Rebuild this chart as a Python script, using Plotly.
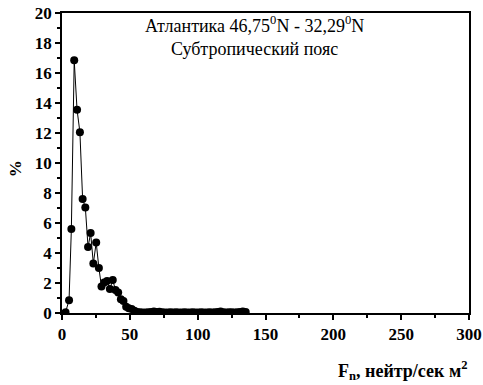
import plotly.graph_objects as go

flux = [2.6, 5.2, 6.9, 9.0, 11.1, 13.2, 15.2, 17.2, 19.2, 21.1, 23.1, 25.2, 27.2, 29.1,
        31.1, 33.2, 35.3, 37.4, 39.4, 41.4, 43.4, 45.3, 47.3, 49.2, 51.3,
        53.4, 55.4, 57.5, 59.5, 61.6, 63.6, 65.7, 67.7, 69.8, 71.8, 73.9, 75.9, 78.0,
        80.0, 82.1, 84.1, 86.2, 88.2, 90.3, 92.3, 94.4, 96.4, 98.5, 100.5, 102.6,
        104.6, 106.7, 108.7, 110.8, 112.8, 114.9, 116.9, 119.0, 121.0, 123.1, 125.1,
        127.2, 129.2, 131.3, 133.3, 135.4]
percent = [0.05, 0.85, 5.6, 16.85, 13.55, 12.05, 7.6, 7.04, 4.4, 5.33, 3.3, 4.7, 3.0, 1.76,
           2.03, 2.14, 1.6, 2.2, 1.54, 1.36, 0.92, 0.8, 0.42, 0.31, 0.27,
           0.15, 0.07, 0.05, 0.04, 0.04, 0.05, 0.06, 0.10, 0.06, 0.09, 0.05, 0.04, 0.04,
           0.05, 0.04, 0.05, 0.04, 0.04, 0.05, 0.04, 0.04, 0.05, 0.04, 0.04, 0.05,
           0.04, 0.04, 0.05, 0.04, 0.05, 0.06, 0.10, 0.05, 0.04, 0.05, 0.05,
           0.04, 0.05, 0.06, 0.10, 0.07]

x_ticks = [0, 50, 100, 150, 200, 250, 300]
x_ticklabels = ["0", "50", "100", "150", "200", "250", "300"]
y_ticks = [0, 2, 4, 6, 8, 10, 12, 14, 16, 18, 20]
y_ticklabels = ["0", "2", "4", "6", "8", "10", "12", "14", "16", "18", "20"]

FONT = "Liberation Serif, Times New Roman, serif"

fig = go.Figure(go.Scatter(
    x=flux, y=percent, mode="lines+markers",
    line=dict(color="black", width=1),
    marker=dict(color="black", size=8),
    showlegend=False,
))

axis_common = dict(
    showgrid=False, zeroline=False, showline=True, linecolor="black", linewidth=1.5,
    mirror=True, ticks="outside", ticklen=5, tickwidth=1.5, tickcolor="black",
    tickfont=dict(family=FONT, size=17, color="black"), automargin=False,
)

fig.update_xaxes(range=[0, 300], tickvals=x_ticks,
                 ticktext=["<b>%s</b>" % t for t in x_ticklabels],
                 minor=dict(dtick=25, tick0=0, ticks="outside", ticklen=3, tickcolor="black"),
                 **axis_common)
fig.update_yaxes(range=[0, 20], tickvals=y_ticks,
                 ticktext=["<b>%s</b>" % t for t in y_ticklabels],
                 minor=dict(dtick=1, tick0=0, ticks="outside", ticklen=3, tickcolor="black"),
                 **axis_common)

fig.add_annotation(x=0.474, y=1.007, xref="paper", yref="paper", xanchor="center", yanchor="top",
                   text="Атлантика 46,75<sup>0</sup>N - 32,29<sup>0</sup>N<br>Субтропический пояс",
                   showarrow=False, align="center",
                   font=dict(family=FONT, size=18, color="black"))
fig.add_annotation(x=1.0, y=-0.19, xref="paper", yref="paper", xanchor="right", yanchor="middle",
                   text="<b>F<sub>n</sub>, нейтр/сек м<sup>2</sup></b>", showarrow=False,
                   font=dict(family=FONT, size=18, color="black"))
fig.add_annotation(x=-0.115, y=0.48, xref="paper", yref="paper", xanchor="center", yanchor="middle",
                   text="<b>%</b>", textangle=-90, showarrow=False,
                   font=dict(family=FONT, size=17, color="black"))

fig.update_layout(
    template="none",
    width=483, height=385,
    margin=dict(l=62, r=14, t=13, b=72, autoexpand=False),
    paper_bgcolor="white", plot_bgcolor="white",
    font=dict(family=FONT, color="black"),
)

fig.write_html("out.html", config={"displayModeBar": False},
               post_script="document.body.style.margin='0';")
